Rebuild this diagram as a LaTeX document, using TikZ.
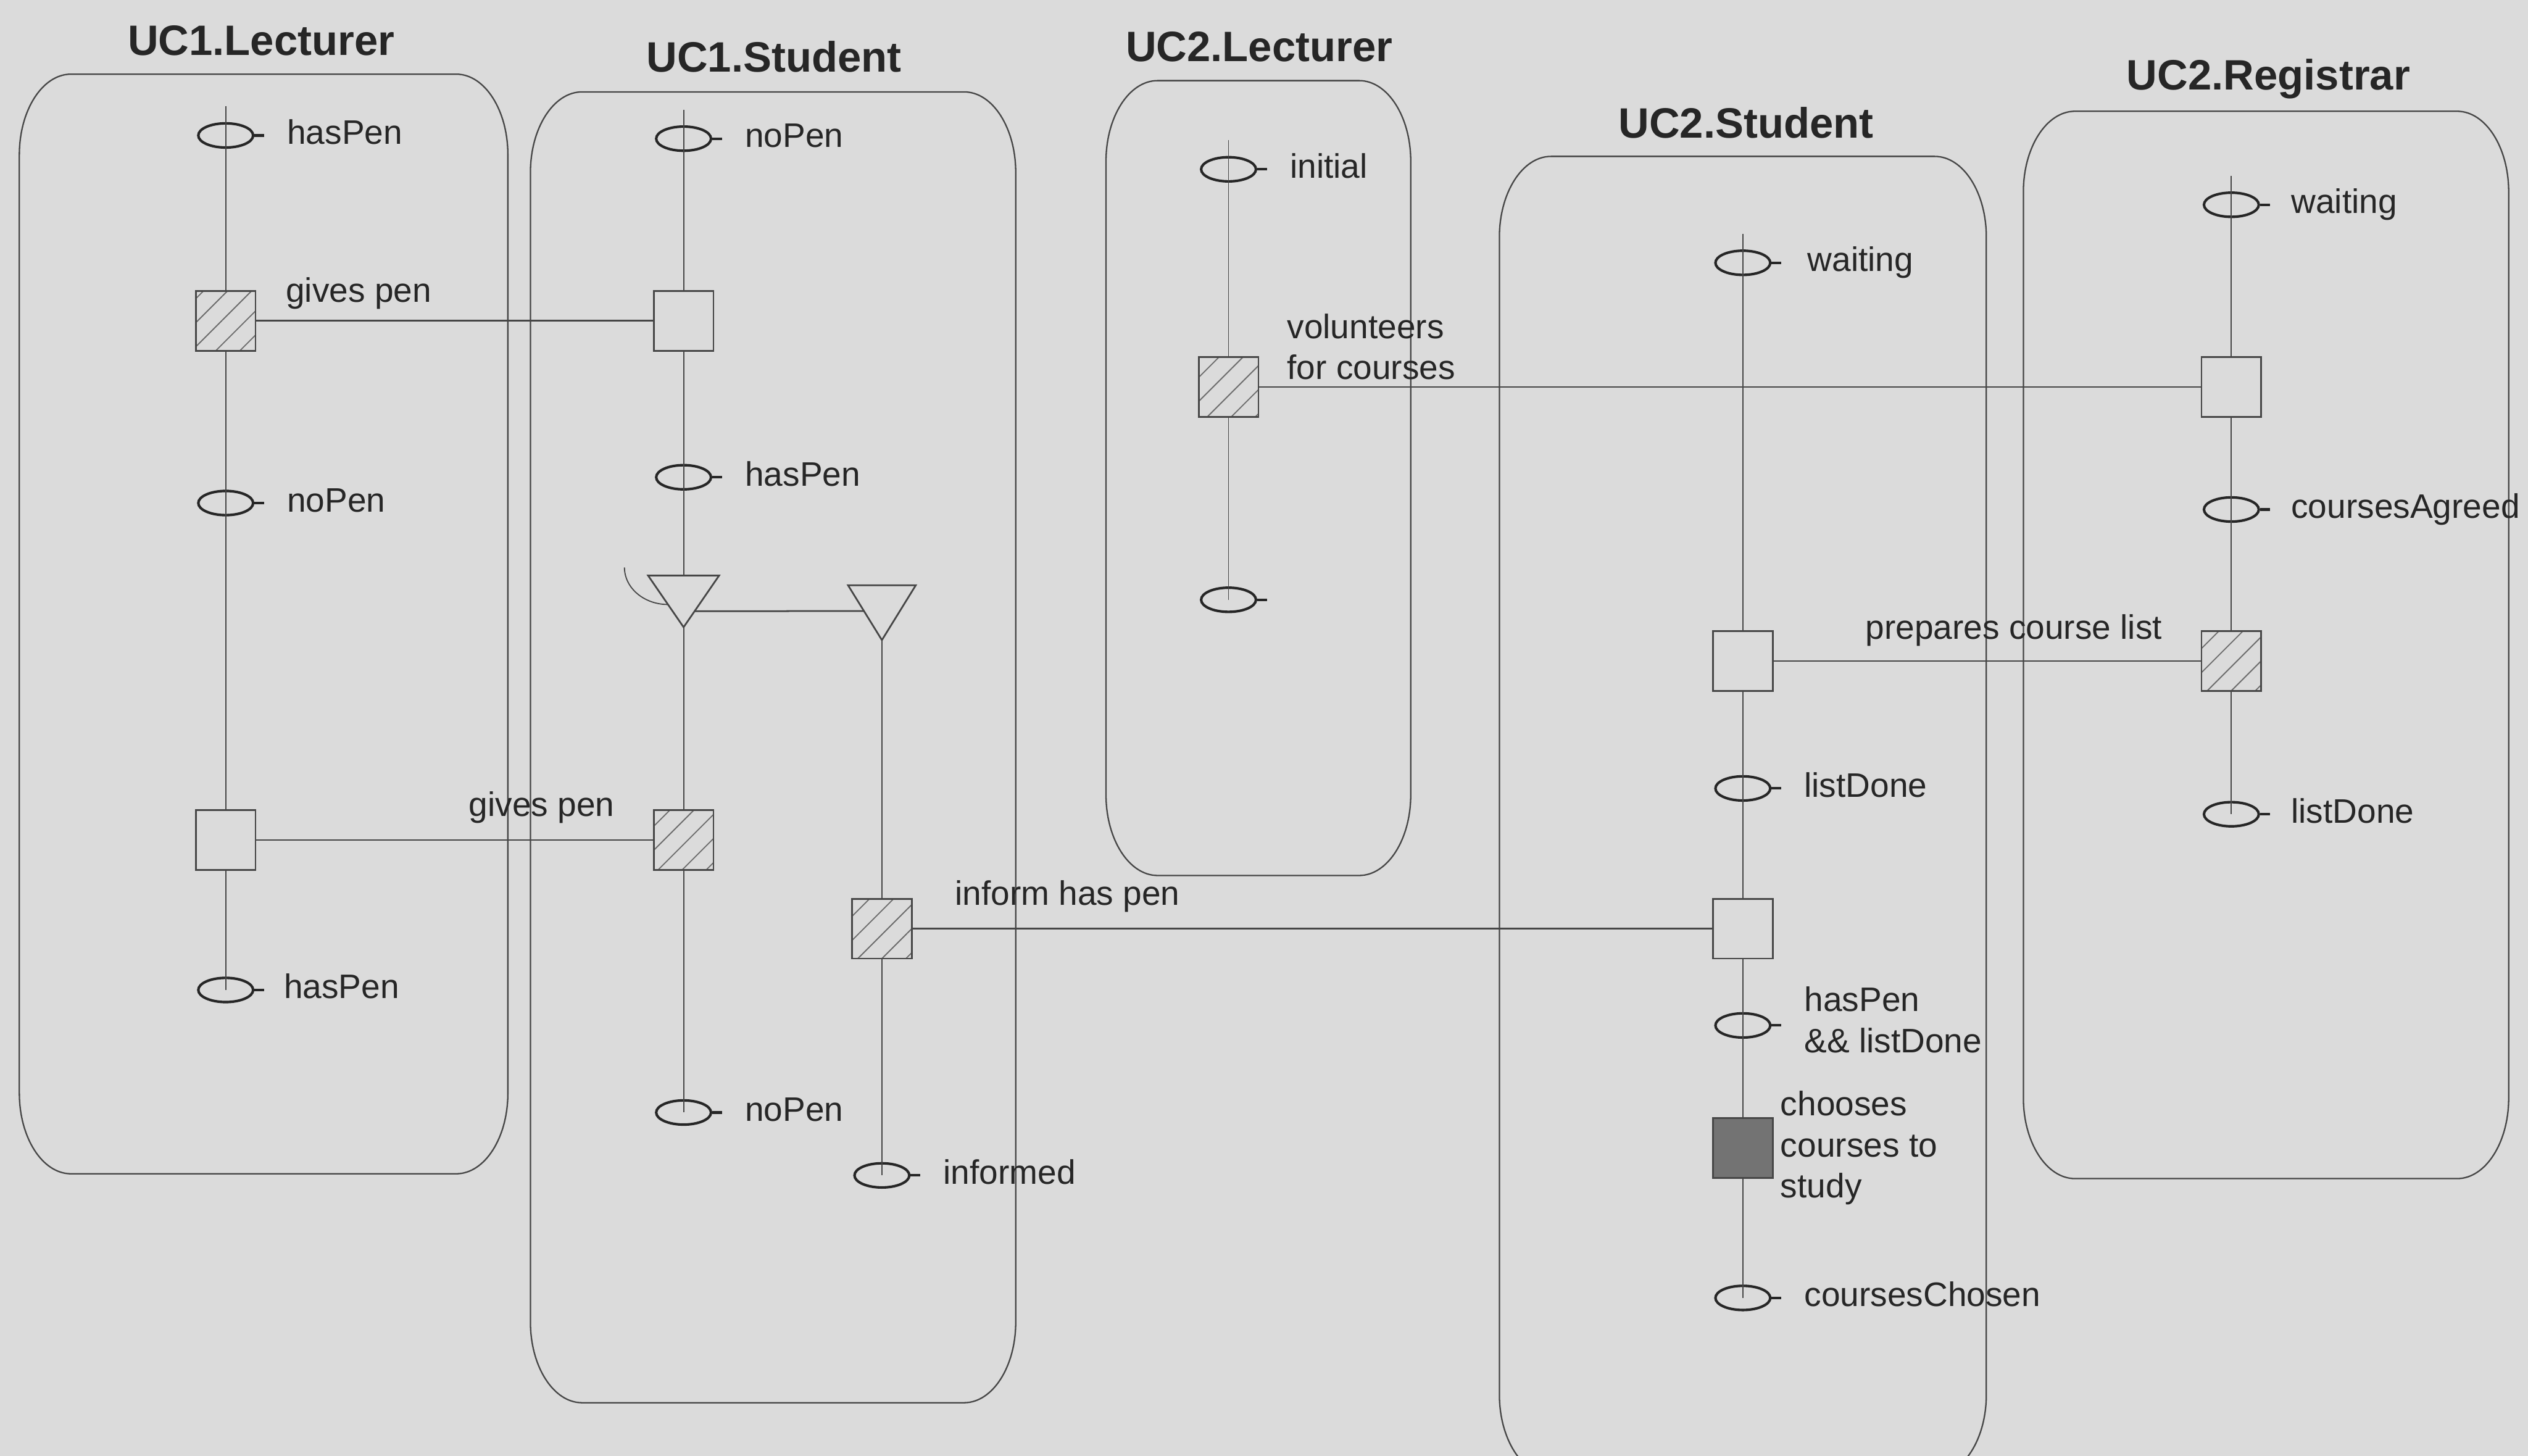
\documentclass[tikz,border=0pt]{standalone}
\usepackage{fontspec}
\setmainfont{Liberation Sans}
\usetikzlibrary{shapes.geometric,patterns.meta,calc,positioning}

\definecolor{paper}{RGB}{219,219,219}
\definecolor{ink}{RGB}{70,70,70}

\tikzset{
  lanebox/.style={draw=ink, line width=0.5pt},
  lanetitle/.style={font=\fontsize{15}{18}\selectfont\bfseries, text=black!85, inner sep=0pt},
  lbl/.style={font=\fontsize{12}{14.5}\selectfont, text=black!85, inner sep=0pt, align=left},
  slbl/.style={lbl, text height=8.6pt, text depth=2.5pt},
  state/.style={ellipse, draw=black!85, line width=0.9pt, minimum width=0.68cm,
    minimum height=0.3cm, inner sep=0pt,
    append after command={(\tikzlastnode.east) edge[draw=black!85, line width=0.9pt] ++(0.12cm,0)}},
  trans/.style={rectangle, draw=ink, line width=0.6pt, minimum size=0.74cm, inner sep=0pt},
  hatched/.style={trans, pattern={Lines[angle=45, distance=6pt, line width=0.4pt]}, pattern color=ink!80},
  active/.style={trans, fill=black!55},
  life/.style={draw=ink, line width=0.4pt},
  link/.style={draw=ink, line width=0.6pt},
}

% swimlane with rounded (elliptic) corners: x1 y1 x2 y2
\newcommand{\lane}[4]{%
  \draw[lanebox] (#1,#4-50) -- (#1,#2+50)
    arc[start angle=180, end angle=270, x radius=32, y radius=50] -- (#3-32,#2)
    arc[start angle=270, end angle=360, x radius=32, y radius=50] -- (#3,#4-50)
    arc[start angle=0, end angle=90, x radius=32, y radius=50] -- (#1+32,#4)
    arc[start angle=90, end angle=180, x radius=32, y radius=50] -- cycle;}

\begin{document}
\begin{tikzpicture}[x=0.02cm,y=-0.02cm]

  \path[use as bounding box, fill=paper] (0,0) rectangle (1568,903);

  % lanes
  \lane{12}{46}{315}{728}
  \lane{329}{57}{630}{870}
  \lane{686}{50}{875}{543}
  \lane{930}{97}{1232}{915}
  \lane{1255}{69}{1556}{731}

  \node[lanetitle] (tA) at (162,25) {UC1.Lecturer};
  \node[lanetitle] (tB) at (480,35) {UC1.Student};
  \node[lanetitle] (tC) at (781,29) {UC2.Lecturer};
  \node[lanetitle] (tD) at (1083,76) {UC2.Student};
  \node[lanetitle] (tE) at (1407,49) {UC2.Registrar};

  % UC1.Lecturer
  \node[state] (l1) at (140,84) {};
  \node[slbl, right=0.4cm of l1] (l1t) {hasPen};
  \node[hatched] (l2) at (140,199) {};
  \node[state] (l3) at (140,312) {};
  \node[slbl, right=0.4cm of l3] (l3t) {noPen};
  \node[trans] (l4) at (140,521) {};
  \node[state] (l5) at (140,614) {};
  \node[slbl, right=0.36cm of l5] (l5t) {hasPen};

  \draw[life] (l1.center) ++(0,-18) -- (l1.center) -- (l2) -- (l3.center) -- (l4) -- (l5.center);

  % UC1.Student
  \node[state] (u1) at (424,86) {};
  \node[slbl, right=0.4cm of u1] (u1t) {noPen};
  \node[trans] (u2) at (424,199) {};
  \node[state] (u3) at (424,296) {};
  \node[slbl, right=0.4cm of u3] (u3t) {hasPen};
  \node[hatched] (u5) at (424,521) {};
  \node[state] (u6) at (424,690) {};
  \node[slbl, right=0.4cm of u6] (u6t) {noPen};
  \node[hatched] (u7) at (547,576) {};
  \node[state] (u8) at (547,729) {};
  \node[slbl, right=0.4cm of u8] (u8t) {informed};

  \draw[link] (402,357) coordinate (f1l) -- (446,357) coordinate (f1r) -- (424,389) coordinate (f1) -- cycle;
  \draw[link] (526,363) coordinate (f2l) -- (568,363) coordinate (f2r) -- (547,397) coordinate (f2) -- cycle;
  \draw[link] ($(f1r)!0.69!(f1)$) -- ($(f2l)!0.47!(f2)$);
  \draw[life] ($(f1l)!0.56!(f1)$) arc[start angle=90, end angle=180, x radius=27, y radius=23];

  \draw[life] (u1.center) ++(0,-18) -- (u1.center) -- (u2) -- (u3.center) -- ($(f1l)!0.5!(f1r)$);
  \draw[life] (f1) -- (u5) -- (u6.center);
  \draw[life] (f2) -- (u7) -- (u8.center);

  % UC2.Lecturer
  \node[state] (m1) at (762,105) {};
  \node[slbl, right=0.4cm of m1] (m1t) {initial};
  \node[hatched] (m2) at (762,240) {};
  \node[state] (m3) at (762,372) {};

  \draw[life] (m1.center) ++(0,-18) -- (m1.center) -- (m2) -- (m3.center);

  % UC2.Student
  \node[state] (w1) at (1081,163) {};
  \node[slbl, right=0.44cm of w1] (w1t) {waiting};
  \node[trans] (w2) at (1081,410) {};
  \node[state] (w3) at (1081,489) {};
  \node[slbl, right=0.4cm of w3] (w3t) {listDone};
  \node[trans] (w4) at (1081,576) {};
  \node[state] (w5) at (1081,636) {};
  \node[lbl, right=0.4cm of w5, yshift=0.07cm] (w5t) {hasPen\\\&\& listDone};
  \node[active] (w6) at (1081,712) {};
  \node[lbl, right=0.08cm of w6] (w6t) {chooses\\courses to\\study};
  \node[state] (w7) at (1081,805) {};
  \node[slbl, right=0.4cm of w7] (w7t) {coursesChosen};

  \draw[life] (w1.center) ++(0,-18) -- (w1.center) -- (w2) -- (w3.center) -- (w4) -- (w5.center) -- (w6) -- (w7.center);

  % UC2.Registrar
  \node[state] (r1) at (1384,127) {};
  \node[slbl, right=0.38cm of r1] (r1t) {waiting};
  \node[trans] (r2) at (1384,240) {};
  \node[state] (r3) at (1384,316) {};
  \node[slbl, right=0.38cm of r3] (r3t) {coursesAgreed};
  \node[hatched] (r4) at (1384,410) {};
  \node[state] (r5) at (1384,505) {};
  \node[slbl, right=0.38cm of r5] (r5t) {listDone};

  \draw[life] (r1.center) ++(0,-18) -- (r1.center) -- (r2) -- (r3.center) -- (r4) -- (r5.center);

  % messages between lanes
  \draw[link] (l2) -- (u2);
  \draw[link] (l4) -- (u5);
  \draw[link] (u7) -- (w4);
  \draw[link] (m2) -- (r2);
  \draw[link] (w2) -- (r4);

  \node[lbl, anchor=west] (g1) at (177,182) {gives pen};
  \node[lbl] (g2) at (336,501) {gives pen};
  \node[lbl, anchor=west] (g3) at (592,556) {inform has pen};
  \node[lbl, anchor=west] (g4) at (798,215) {volunteers\\for courses};
  \node[lbl] (g5) at (1249,391) {prepares course list};

\end{tikzpicture}
\end{document}
